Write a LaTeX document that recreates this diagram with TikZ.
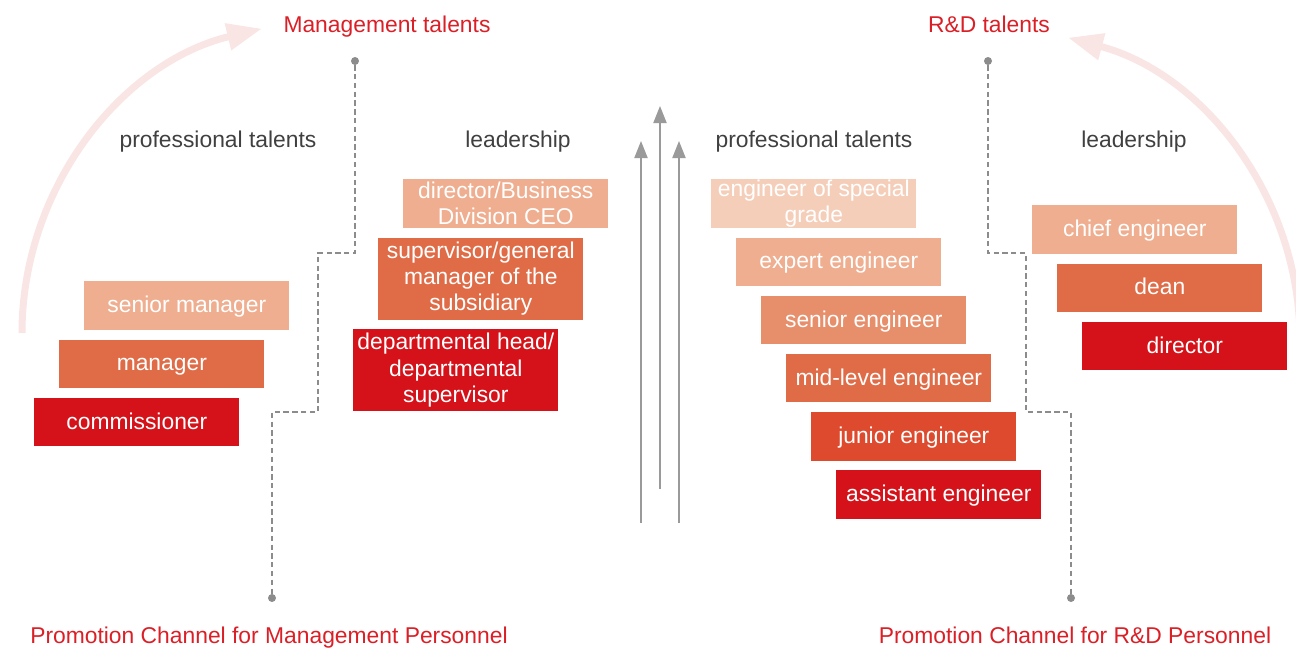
\documentclass[tikz,border=0pt]{standalone}
\usepackage{fontspec}
\setmainfont{Liberation Sans}
\usepackage{tikz}
\usetikzlibrary{arrows.meta,positioning}
\definecolor{tierA}{HTML}{F5CEBA}
\definecolor{tierB}{HTML}{EEAE8F}
\definecolor{tierC}{HTML}{E78E6B}
\definecolor{tierD}{HTML}{E06C47}
\definecolor{tierE}{HTML}{DD4A2E}
\definecolor{tierF}{HTML}{D51219}
\definecolor{headred}{HTML}{DA1F26}
\definecolor{subgray}{HTML}{404040}
\definecolor{trailgray}{HTML}{8C8C8C}
\definecolor{upgray}{HTML}{9A9A9A}
\definecolor{sweeppink}{HTML}{FAE5E5}
\tikzset{
  box/.style={fill=#1, text=white, minimum width=4.1cm, minimum height=0.97cm, inner sep=0pt, align=center},
  box/.default=tierB,
  single/.style={box=#1, text height=0.95em, text depth=0.15em},
  tall/.style={minimum height=1.64cm},
  head/.style={text=headred, inner sep=0pt},
  sub/.style={text=subgray, inner sep=0pt},
  dot/.style={circle, fill=trailgray, inner sep=0pt, minimum size=0.16cm},
  trail/.style={draw=trailgray, line width=0.8pt, dash pattern=on 3pt off 2pt},
  up/.style={draw=upgray, line width=1.1pt, -{Triangle[length=0.34cm,width=0.26cm]}},
  sweep/.style={draw=sweeppink, line width=0.14cm, -{Triangle[length=0.7cm,width=0.52cm]}}
}
\begin{document}
\begin{tikzpicture}[x=0.02cm, y=0.02cm, font=\fontsize{13}{15}\selectfont]
\useasboundingbox (0,0) rectangle (1296,-650);
\coordinate (lsweep) at (22,-333);
\coordinate (rsweep) at (1300,-340);
\draw[sweep] (lsweep) arc[start angle=180, end angle=103.5, radius=313];
\draw[sweep] (rsweep) arc[start angle=0, end angle=75, radius=313];
\node[head, anchor=base] (mgmt) at (387,-32) {Management talents};
\node[head, anchor=base] (rnd) at (989,-32) {R\&D talents};
\node[sub, anchor=base] (mprof) at (218,-147) {professional talents};
\node[sub, anchor=base] (mlead) at (518,-147) {leadership};
\node[sub, anchor=base] (rprof) at (814,-147) {professional talents};
\node[sub, anchor=base] (rlead) at (1134,-147) {leadership};
\node[head, anchor=base] (mchan) at (269,-643) {Promotion Channel for Management Personnel};
\node[head, anchor=base] (rchan) at (1075,-643) {Promotion Channel for R\&D Personnel};
\node[single=tierB, anchor=north west] (smgr) at (84,-281) {senior manager};
\node[single=tierD, below=0.18cm of smgr.south west, anchor=north west, xshift=-0.5cm] (mgr) {manager};
\node[single=tierF, below=0.18cm of mgr.south west, anchor=north west, xshift=-0.5cm] (comm) {commissioner};
\node[box=tierB, anchor=north west] (ceo) at (403,-179) {director/Business\\Division CEO};
\node[box=tierD, tall, below=0.18cm of ceo.south west, anchor=north west, xshift=-0.5cm] (gm) {supervisor/general\\manager of the\\subsidiary};
\node[box=tierF, tall, below=0.18cm of gm.south west, anchor=north west, xshift=-0.5cm] (dept) {departmental head/\\departmental\\supervisor};
\node[box=tierA, anchor=north west] (special) at (711,-179) {engineer of special\\grade};
\node[single=tierB, below=0.18cm of special.south west, anchor=north west, xshift=0.5cm] (expert) {expert engineer};
\node[single=tierC, below=0.18cm of expert.south west, anchor=north west, xshift=0.5cm] (senior) {senior engineer};
\node[single=tierD, below=0.18cm of senior.south west, anchor=north west, xshift=0.5cm] (mid) {mid-level engineer};
\node[single=tierE, below=0.18cm of mid.south west, anchor=north west, xshift=0.5cm] (junior) {junior engineer};
\node[single=tierF, below=0.18cm of junior.south west, anchor=north west, xshift=0.5cm] (assist) {assistant engineer};
\node[single=tierB, anchor=north west] (chief) at (1032,-205) {chief engineer};
\node[single=tierD, below=0.18cm of chief.south west, anchor=north west, xshift=0.5cm] (dean) {dean};
\node[single=tierF, below=0.18cm of dean.south west, anchor=north west, xshift=0.5cm] (dir) {director};
\node[dot] (ltop) at (355,-61) {};
\node[dot] (lbot) at (272,-598) {};
\coordinate (lk1) at (318,-253);
\coordinate (lk2) at (272,-412);
\draw[trail] (ltop) |- (lk1) |- (lk2) -- (lbot);
\node[dot] (rtop) at (988,-61) {};
\node[dot] (rbot) at (1071,-598) {};
\coordinate (rk1) at (1026,-253);
\coordinate (rk2) at (1071,-412);
\draw[trail] (rtop) |- (rk1) |- (rk2) -- (rbot);
\coordinate (ua) at (641,-523);
\coordinate (uat) at (641,-141);
\coordinate (ub) at (660,-489);
\coordinate (ubt) at (660,-106);
\coordinate (uc) at (679,-523);
\coordinate (uct) at (679,-141);
\draw[up] (ua) -- (uat);
\draw[up] (ub) -- (ubt);
\draw[up] (uc) -- (uct);
\end{tikzpicture}
\end{document}
